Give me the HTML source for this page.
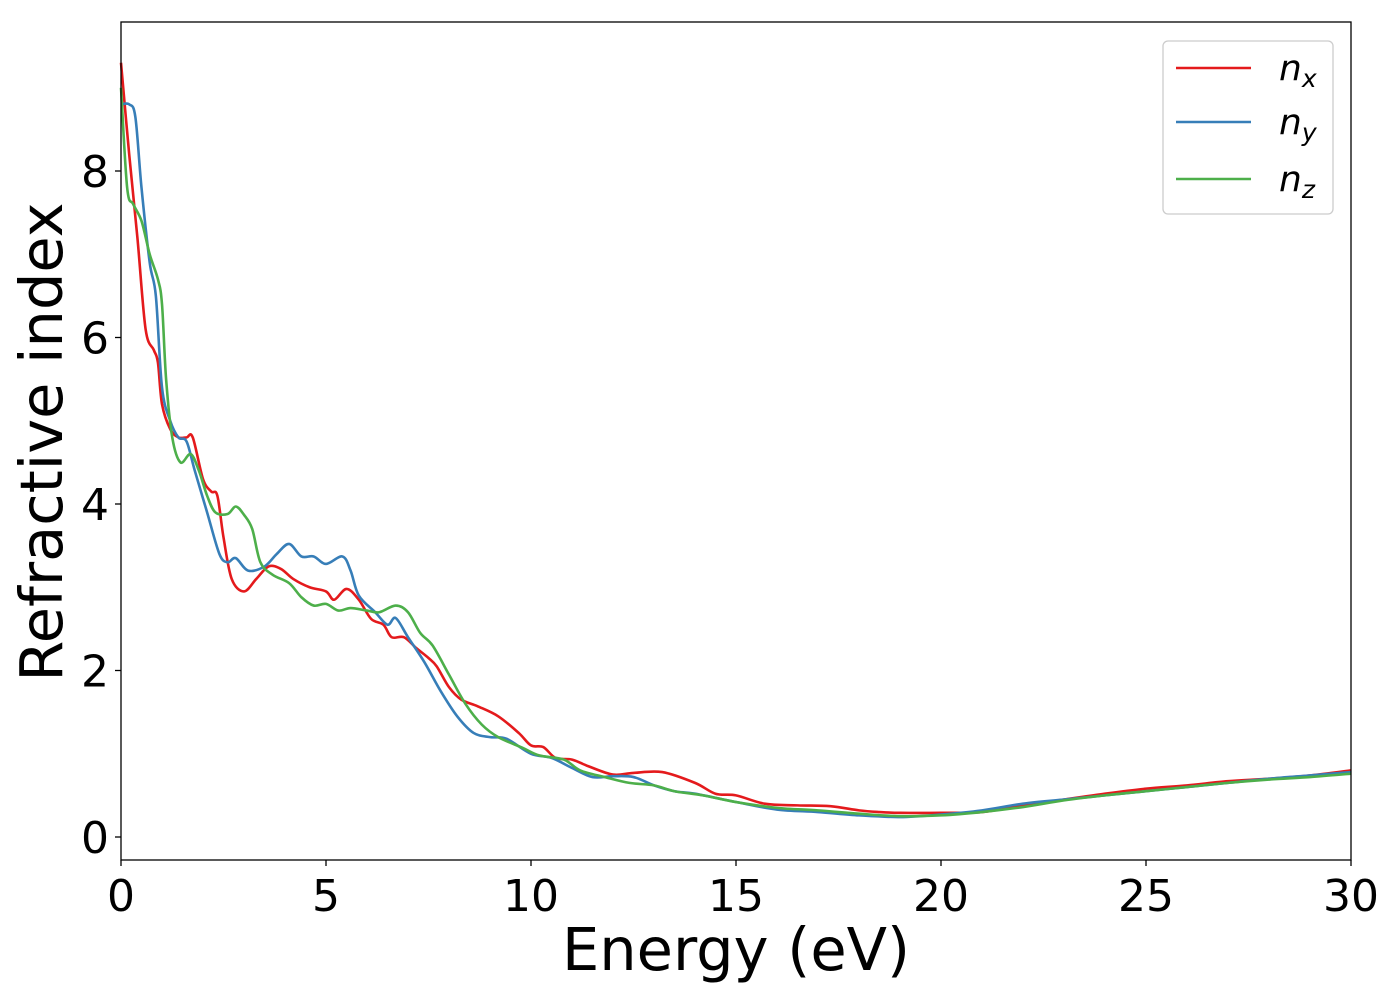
<!DOCTYPE html>
<html><head><meta charset="utf-8"><style>
body{margin:0;background:#fff;}
svg text{font-family:"DejaVu Sans","Liberation Sans",sans-serif;}
</style></head><body>
<svg id="chart" width="1400" height="1000">
<rect x="0" y="0" width="1400" height="1000" fill="#fff"/>
<g id="ticks"></g>
<g id="lines"></g>
<rect x="121" y="22" width="1230" height="838" fill="none" stroke="#000" stroke-width="1.3"/>
<text x="736" y="970" font-size="59" text-anchor="middle">Energy (eV)</text>
<text transform="translate(62,442) rotate(-90)" font-size="59" text-anchor="middle">Refractive index</text>
<g>
<rect x="1163" y="41" width="170" height="173" rx="5" fill="#fff" stroke="#ccc" stroke-width="1.3"/>
<line x1="1176" y1="68" x2="1251" y2="68" stroke="#e41a1c" stroke-width="2.6"/>
<text x="1279" y="80" font-size="36" font-style="italic">n<tspan font-size="25" dy="7">x</tspan></text>
<line x1="1176" y1="122" x2="1251" y2="122" stroke="#377eb8" stroke-width="2.6"/>
<text x="1279" y="134" font-size="36" font-style="italic">n<tspan font-size="25" dy="7">y</tspan></text>
<line x1="1176" y1="179" x2="1251" y2="179" stroke="#4daf4a" stroke-width="2.6"/>
<text x="1279" y="191" font-size="36" font-style="italic">n<tspan font-size="25" dy="7">z</tspan></text>
</g>
</svg>
<script>
const xTicks = [0, 5, 10, 15, 20, 25, 30];
const yTicks = [0, 2, 4, 6, 8];
const nxE = [0,0.2,0.4,0.6,0.8,0.9,1.0,1.2,1.4,1.6,1.75,2.0,2.2,2.35,2.5,2.7,3.0,3.3,3.6,3.9,4.2,4.6,5.0,5.2,5.5,5.8,6.1,6.4,6.6,6.9,7.2,7.5,7.7,8.0,8.3,8.7,9.2,9.7,10.0,10.3,10.6,11.0,11.4,12,12.5,13.2,14,14.5,15,15.7,16.5,17.3,18,18.5,19,20,21,22,23,24,25,26,27,28,29,30];
const nxV = [9.3,8.2,7.2,6.1,5.85,5.7,5.2,4.9,4.8,4.8,4.8,4.3,4.15,4.1,3.6,3.1,2.95,3.1,3.25,3.22,3.1,3.0,2.95,2.85,2.98,2.85,2.62,2.55,2.4,2.4,2.27,2.15,2.05,1.8,1.65,1.57,1.45,1.25,1.1,1.08,0.95,0.93,0.85,0.75,0.77,0.78,0.65,0.52,0.5,0.4,0.38,0.37,0.32,0.3,0.29,0.29,0.3,0.38,0.45,0.52,0.58,0.62,0.67,0.7,0.74,0.8];
const nyE = [0,0.2,0.35,0.5,0.7,0.85,1.0,1.2,1.4,1.6,1.8,2.1,2.4,2.6,2.8,3.1,3.5,3.8,4.1,4.4,4.7,5.0,5.4,5.6,5.8,6.2,6.5,6.7,7.0,7.4,7.8,8.2,8.6,9.0,9.4,10,10.5,11,11.5,12,12.5,13,13.5,14,15,16,17,18,19,20,21,22,23,24,25,26,27,28,29,30];
const nyV = [8.8,8.8,8.65,7.8,6.9,6.5,5.4,5.0,4.8,4.75,4.4,3.9,3.4,3.3,3.35,3.2,3.25,3.4,3.52,3.37,3.37,3.28,3.37,3.2,2.9,2.7,2.55,2.63,2.4,2.1,1.75,1.45,1.25,1.2,1.18,1.0,0.95,0.83,0.72,0.73,0.72,0.62,0.55,0.52,0.42,0.33,0.3,0.26,0.24,0.27,0.32,0.4,0.45,0.5,0.55,0.6,0.65,0.7,0.74,0.78];
const nzE = [0,0.15,0.3,0.5,0.7,0.9,1.0,1.1,1.25,1.45,1.7,1.9,2.1,2.3,2.6,2.8,3.0,3.2,3.4,3.7,4.1,4.4,4.7,5.0,5.3,5.6,6.0,6.3,6.7,7.0,7.3,7.6,8.0,8.4,8.8,9.2,9.8,10.2,10.8,11.2,11.8,12.4,13,13.5,14.2,15,16,17,18,19,20,21,22,23,24,25,26,27,28,29,30];
const nzV = [9.0,7.8,7.6,7.4,7.0,6.7,6.4,5.5,4.8,4.5,4.6,4.4,4.1,3.9,3.88,3.97,3.87,3.7,3.3,3.15,3.05,2.88,2.78,2.8,2.72,2.75,2.72,2.7,2.78,2.7,2.45,2.3,1.95,1.6,1.35,1.2,1.07,0.98,0.93,0.8,0.72,0.65,0.62,0.55,0.5,0.42,0.35,0.32,0.28,0.25,0.26,0.3,0.36,0.44,0.5,0.55,0.6,0.65,0.69,0.72,0.76];

const NS = 'http://www.w3.org/2000/svg';
function xs(e){ return 121 + (e - 0) / 30 * 1230; }
function ys(n){ return 837 - n * 83.25; }

const tickG = document.getElementById('ticks');
xTicks.forEach(t => {
  const l = document.createElementNS(NS, 'line');
  l.setAttribute('x1', xs(t)); l.setAttribute('x2', xs(t));
  l.setAttribute('y1', 860); l.setAttribute('y2', 866);
  l.setAttribute('stroke', '#000'); l.setAttribute('stroke-width', '1.3');
  
  
  tickG.appendChild(l);
  const tx = document.createElementNS(NS, 'text');
  tx.setAttribute('x', xs(t)); tx.setAttribute('y', 911);
  tx.setAttribute('font-size', '44'); tx.setAttribute('text-anchor', 'middle');
  tx.textContent = t;
  
  
  tickG.appendChild(tx);
});
yTicks.forEach(t => {
  const l = document.createElementNS(NS, 'line');
  l.setAttribute('x1', 115); l.setAttribute('x2', 121);
  l.setAttribute('y1', ys(t)); l.setAttribute('y2', ys(t));
  l.setAttribute('stroke', '#000'); l.setAttribute('stroke-width', '1.3');
  
  
  tickG.appendChild(l);
  const tx = document.createElementNS(NS, 'text');
  tx.setAttribute('x', 109); tx.setAttribute('y', ys(t) + 16);
  tx.setAttribute('font-size', '44'); tx.setAttribute('text-anchor', 'end');
  tx.textContent = t;
  
  
  tickG.appendChild(tx);
});

function smoothPath(E, V){
  const p = E.map((e,i)=>[xs(e), ys(V[i])]);
  let d = 'M' + p[0][0] + ',' + p[0][1];
  for (let i = 0; i < p.length - 1; i++) {
    const p0 = p[Math.max(0,i-1)], p1 = p[i], p2 = p[i+1], p3 = p[Math.min(p.length-1,i+2)];
    const c1x = p1[0] + (p2[0]-p0[0])/6, c1y = p1[1] + (p2[1]-p0[1])/6;
    const c2x = p2[0] - (p3[0]-p1[0])/6, c2y = p2[1] - (p3[1]-p1[1])/6;
    d += ' C' + c1x + ',' + c1y + ' ' + c2x + ',' + c2y + ' ' + p2[0] + ',' + p2[1];
  }
  return d;
}
const lineG = document.getElementById('lines');
[[nxE,nxV,'#e41a1c','series-nx'],[nyE,nyV,'#377eb8','series-ny'],[nzE,nzV,'#4daf4a','series-nz']].forEach(s => {
  const path = document.createElementNS(NS, 'path');
  path.setAttribute('d', smoothPath(s[0], s[1]));
  path.setAttribute('fill', 'none');
  path.setAttribute('stroke', s[2]);
  path.setAttribute('stroke-width', '2.6');
  path.setAttribute('stroke-linejoin', 'round');
  
  
  lineG.appendChild(path);
});
</script>
</body></html>
